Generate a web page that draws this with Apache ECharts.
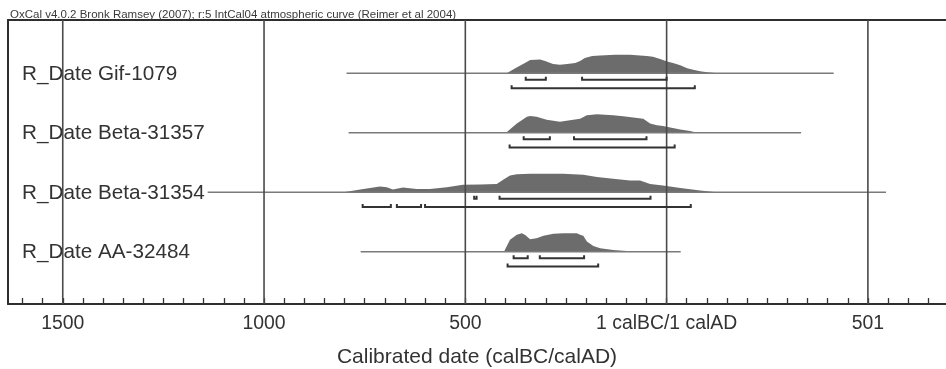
<!DOCTYPE html>
<html>
<head>
<meta charset="utf-8">
<script src="https://cdn.jsdelivr.net/npm/echarts@6/dist/echarts.min.js"></script>
<style>
  html, body { margin: 0; padding: 0; background: #ffffff; overflow: hidden; }
  #chart { width: 946px; height: 369px; }
</style>
</head>
<body>
<div id="chart"></div>
<script>
// ---- Data ---------------------------------------------------------------
// Years on the calendar axis: negative = calBC, positive = calAD (0 is the 1 BC / 1 AD boundary).
const plotTitle = 'OxCal v4.0.2 Bronk Ramsey (2007); r:5 IntCal04 atmospheric curve (Reimer et al 2004)';
const axisTitle = 'Calibrated date (calBC/calAD)';

const rowNames    = ['R_Date Gif-1079', 'R_Date Beta-31357', 'R_Date Beta-31354', 'R_Date AA-32484'];
const rowPosition = [3, 2, 1, 0];
const rowLineFrom = [-795, -790, -1140, -760];
const rowLineTo   = [415, 334, 545, 35];

// Posterior (relative probability, % of peak) for each date
const gifYears = [-397, -376, -352, -339, -314, -302, -282, -265, -247, -227, -215, -203, -185, -165, -128, -91, -66, -49, -34, -16, 1, 16, 34, 51, 66, 83, 101, 128];
const gifProb  = [0, 28, 56, 72, 75, 67, 50, 47, 50, 56, 67, 83, 94, 97, 100, 100, 97, 94, 89, 78, 64, 56, 44, 28, 19, 11, 6, 0];

const beta57Years = [-399, -372, -347, -339, -323, -298, -265, -240, -215, -198, -173, -133, -108, -83, -58, -41, -24, -9, 9, 34, 58, 76];
const beta57Prob  = [0, 50, 86, 91, 86, 71, 59, 68, 76, 95, 100, 95, 89, 82, 76, 50, 41, 36, 28, 18, 9, 0];

const beta54Years = [-803, -753, -712, -695, -680, -655, -621, -588, -546, -506, -463, -422, -405, -389, -372, -339, -257, -207, -173, -133, -91, -66, -41, -9, 34, 83, 125];
const beta54Prob  = [0, 18, 31, 27, 15, 26, 18, 18, 27, 40, 42, 44, 69, 91, 97, 100, 100, 95, 82, 73, 64, 64, 45, 37, 23, 9, 0];

const aaYears = [-404, -389, -372, -360, -352, -339, -323, -306, -281, -256, -223, -215, -207, -198, -182, -165, -133, -108, -74];
const aaProb  = [0, 64, 91, 100, 91, 67, 73, 86, 97, 100, 100, 91, 86, 55, 31, 18, 9, 5, 0];

const distYears = [gifYears, beta57Years, beta54Years, aaYears];
const distProb  = [gifProb, beta57Prob, beta54Prob, aaProb];

// Highest posterior density ranges
const range68 = [
  [[-350, -300], [-210, 0]],
  [[-355, -290], [-230, -50]],
  [[-478, -472], [-415, -40]],
  [[-380, -345], [-315, -205]]
];
const range95 = [
  [[-385, 70]],
  [[-390, 20]],
  [[-755, -685], [-670, -610], [-600, 60]],
  [[-395, -170]]
];

const gridYears  = [-1500, -1000, -500, 0, 500];
const tickLabels = ['1500', '1000', '500', '1 calBC/1 calAD', '501'];

// ---- Layout constants -----------------------------------------------------
const AXIS_MIN = -1636;
const AXIS_MAX = 694;        // plot continues past the right edge of the page
const PEAK_PX = 18.5;        // height of each distribution's peak
const OFFSET_68 = 6.5;       // 68.2% bracket below the row line
const OFFSET_95 = 14.8;      // 95.4% bracket below the row line
const BRACKET_TICK = 3;
const FONT = '"Liberation Sans", Arial, Helvetica, sans-serif';
const FRAME = { color: '#2e2e2e', width: 2 };

const minorTicks = [];
for (let y = -1600; y <= 650; y += 50) minorTicks.push(y);

function yearLabel(v) {
  const i = gridYears.indexOf(v);
  return i >= 0 ? tickLabels[i] : '';
}

// ---- Series data ----------------------------------------------------------
const rowData = rowNames.map((n, i) => [rowPosition[i], rowLineFrom[i], rowLineTo[i]]);
const distData = rowNames.map((n, i) => [rowPosition[i]]);
const bracketData = [];
range68.forEach((list, i) => list.forEach(r => bracketData.push([rowPosition[i], r[0], r[1], 68])));
range95.forEach((list, i) => list.forEach(r => bracketData.push([rowPosition[i], r[0], r[1], 95])));

const chart = echarts.init(document.getElementById('chart'), null, { renderer: 'canvas' });

chart.setOption({
  backgroundColor: '#ffffff',
  animation: false,
  title: {
    text: plotTitle,
    left: 5,
    top: 4,
    textStyle: { fontFamily: FONT, fontSize: 11.5, fontWeight: 'normal', color: '#3a3a3a' }
  },
  grid: {
    left: 8, top: 20, right: 0, bottom: 65,
    outerBoundsMode: 'none',
    containLabel: false,
    show: false
  },
  xAxis: [
    {
      type: 'value',
      position: 'bottom',
      min: AXIS_MIN,
      max: AXIS_MAX,
      name: axisTitle,
      nameLocation: 'middle',
      nameGap: 43,
      nameTextStyle: { fontFamily: FONT, fontSize: 21, color: '#333333' },
      axisLine: { show: true, onZero: false, lineStyle: FRAME },
      axisTick: {
        show: true, inside: true, length: 6, customValues: minorTicks,
        lineStyle: { color: '#333333', width: 1.3 }
      },
      axisLabel: {
        show: true, customValues: gridYears, margin: 10,
        formatter: yearLabel,
        fontFamily: FONT, fontSize: 19.4, color: '#333333'
      },
      splitLine: { show: false }
    },
    {
      // top edge of the frame
      type: 'value',
      position: 'top',
      min: AXIS_MIN,
      max: AXIS_MAX,
      axisLine: { show: true, onZero: false, lineStyle: FRAME },
      axisTick: { show: false },
      axisLabel: { show: false },
      splitLine: { show: false }
    }
  ],
  yAxis: {
    type: 'value', min: -0.88, max: 3.897,
    position: 'left',
    axisLine: { show: true, onZero: false, lineStyle: FRAME },
    axisTick: { show: false },
    axisLabel: { show: false },
    splitLine: { show: false }
  },
  series: [
    {
      name: 'posterior',
      type: 'custom',
      z: 1,
      data: distData,
      encode: { y: 0 },
      renderItem: function (params, api) {
        const i = params.dataIndex;
        const row = api.value(0);
        const yrs = distYears[i], pr = distProb[i];
        const pts = yrs.map((yr, k) => {
          const c = api.coord([yr, row]);
          return [c[0], c[1] - pr[k] / 100 * PEAK_PX];
        });
        return { type: 'polygon', shape: { points: pts }, style: { fill: '#6c6c6c' } };
      }
    },
    {
      name: 'rows',
      type: 'custom',
      z: 2,
      data: rowData,
      encode: { x: [1, 2], y: 0 },
      renderItem: function (params, api) {
        const row = api.value(0);
        const a = api.coord([api.value(1), row]);
        const b = api.coord([api.value(2), row]);
        return {
          type: 'group',
          children: [
            { type: 'line', shape: { x1: a[0], y1: a[1], x2: b[0], y2: b[1] },
              style: { stroke: '#7a7a7a', lineWidth: 1.5 } },
            { type: 'text', x: params.coordSys.x + 14, y: a[1] + 1,
              style: { text: rowNames[params.dataIndex], fontFamily: FONT, fontSize: 20.7,
                       fill: '#333333', verticalAlign: 'middle', align: 'left' } }
          ]
        };
      }
    },
    {
      name: 'grid lines',
      type: 'custom',
      z: 3,
      data: gridYears.map(v => [v]),
      encode: { x: 0 },
      renderItem: function (params, api) {
        const cs = params.coordSys;
        const x = api.coord([api.value(0), 0])[0];
        return { type: 'line', shape: { x1: x, y1: cs.y, x2: x, y2: cs.y + cs.height },
                 style: { stroke: '#4a4a4a', lineWidth: 1.6 } };
      }
    },
    {
      name: 'ranges',
      type: 'custom',
      z: 4,
      data: bracketData,
      encode: { x: [1, 2], y: 0 },
      renderItem: function (params, api) {
        const row = api.value(0);
        const off = api.value(3) === 68 ? OFFSET_68 : OFFSET_95;
        const a = api.coord([api.value(1), row]);
        const b = api.coord([api.value(2), row]);
        const y = a[1] + off;
        return {
          type: 'polyline',
          shape: { points: [[a[0], y - BRACKET_TICK], [a[0], y], [b[0], y], [b[0], y - BRACKET_TICK]] },
          style: { stroke: '#333333', lineWidth: 2, fill: null, lineJoin: 'miter' }
        };
      }
    }
  ]
});
</script>
</body>
</html>
